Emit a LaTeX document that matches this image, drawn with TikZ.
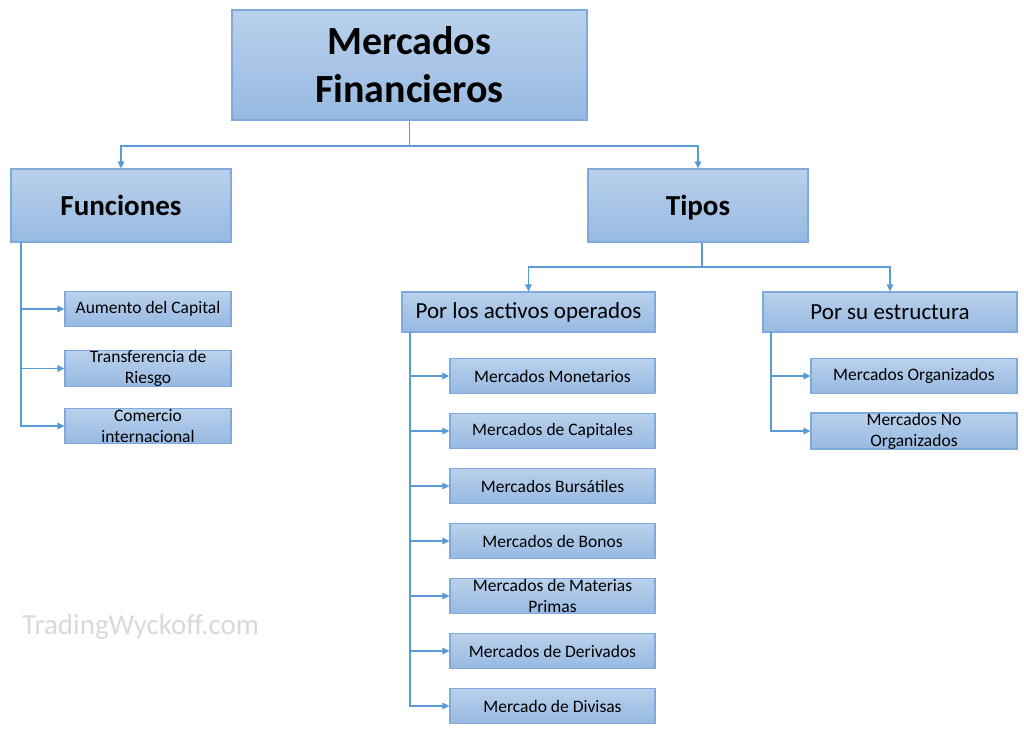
\documentclass[tikz,border=0pt]{standalone}
\usepackage{fontspec}
\setmainfont{Carlito}
\usepackage{xcolor}
\usepackage{tikz}
\usetikzlibrary{arrows.meta}

\definecolor{boxtop}{HTML}{B9D1EC}
\definecolor{boxbot}{HTML}{97B9E1}
\definecolor{boxline}{HTML}{80A9DC}
\definecolor{linkblue}{HTML}{5B9BD5}

\begin{document}
\begin{tikzpicture}[x=1pt,y=-1pt,
    box/.style={draw=boxline, line width=1.2pt, top color=boxtop, bottom color=boxbot,
                inner sep=0pt, align=center, text=black},
    link/.style={draw=linkblue, line width=1.3pt, -{Triangle[length=7pt,width=6.5pt]}},
    trunk/.style={draw=linkblue, line width=1.3pt}]
        \useasboundingbox (0,0) rectangle (1024,734);

        % Root
        \node[box, minimum width=355pt, minimum height=110pt,
              font=\fontsize{40}{48}\selectfont\bfseries] (root) at (409.5,65) {Mercados\\Financieros};

        % First level
        \node[box, minimum width=220pt, minimum height=73pt, text depth=0pt,
              font=\fontsize{29}{34}\selectfont\bfseries] (func) at (121,205.5) {Funciones};
        \node[box, minimum width=220pt, minimum height=73pt, text depth=0pt,
              font=\fontsize{29}{34}\selectfont\bfseries] (tipos) at (698,205.5) {Tipos};

        % Root to first level
        \coordinate (rootbus) at (409.5,146);
        \draw[trunk] (root.south) -- (rootbus);
        \draw[link] (rootbus) -| (func.north);
        \draw[link] (rootbus) -| (tipos.north);

        % Funciones children
        \tikzset{small/.style={box, minimum width=166pt, minimum height=35pt,
                 font=\fontsize{17.5}{21}\selectfont}}
        \node[small] (aumento) at (148,309) {Aumento del Capital};
        \node[small] (riesgo) at (148,368.5) {Transferencia de\\Riesgo};
        \node[small] (comercio) at (148,426) {Comercio\\internacional};
        \coordinate (funcL) at (21,242);
        \foreach \n in {aumento,riesgo,comercio}
            \draw[link] (funcL) |- (\n.west);

        % Tipos children
        \node[box, minimum width=253pt, minimum height=40pt,
              font=\fontsize{23}{27}\selectfont] (activos) at (528.5,312) {Por los activos operados};
        \node[box, minimum width=254pt, minimum height=40pt,
              font=\fontsize{23}{27}\selectfont] (estruc) at (890,312) {Por su estructura};
        \coordinate (tipobus) at (702,267);
        \draw[trunk] (tipos.south -| tipobus) -- (tipobus);
        \draw[link] (tipobus) -| (activos.north);
        \draw[link] (tipobus) -| (estruc.north);

        % Por los activos operados
        \tikzset{leaf/.style={small, minimum width=205pt}}
        \node[leaf] (monet) at (552.5,376) {Mercados Monetarios};
        \node[leaf] (capit) at (552.5,431) {Mercados de Capitales};
        \node[leaf] (bursa) at (552.5,486) {Mercados Bursátiles};
        \node[leaf] (bonos) at (552.5,541) {Mercados de Bonos};
        \node[leaf] (mater) at (552.5,596) {Mercados de Materias\\Primas};
        \node[leaf] (deriv) at (552.5,651) {Mercados de Derivados};
        \node[leaf] (divis) at (552.5,706) {Mercado de Divisas};
        \coordinate (activosL) at (410,332);
        \foreach \n in {monet,capit,bursa,bonos,mater,deriv,divis}
            \draw[link] (activosL) |- (\n.west);

        % Por su estructura
        \node[leaf, minimum width=206pt] (organ) at (914,376) {Mercados Organizados};
        \node[leaf, minimum width=206pt] (noorg) at (914,431) {Mercados No\\Organizados};
        \coordinate (estrucL) at (771,332);
        \foreach \n in {organ,noorg}
            \draw[link] (estrucL) |- (\n.west);

        % Watermark
        \node[anchor=west, text=black!15, font=\fontsize{29}{34}\selectfont, inner sep=0pt]
            (mark) at (22,627) {TradingWyckoff.com};
    \end{tikzpicture}
\end{document}
